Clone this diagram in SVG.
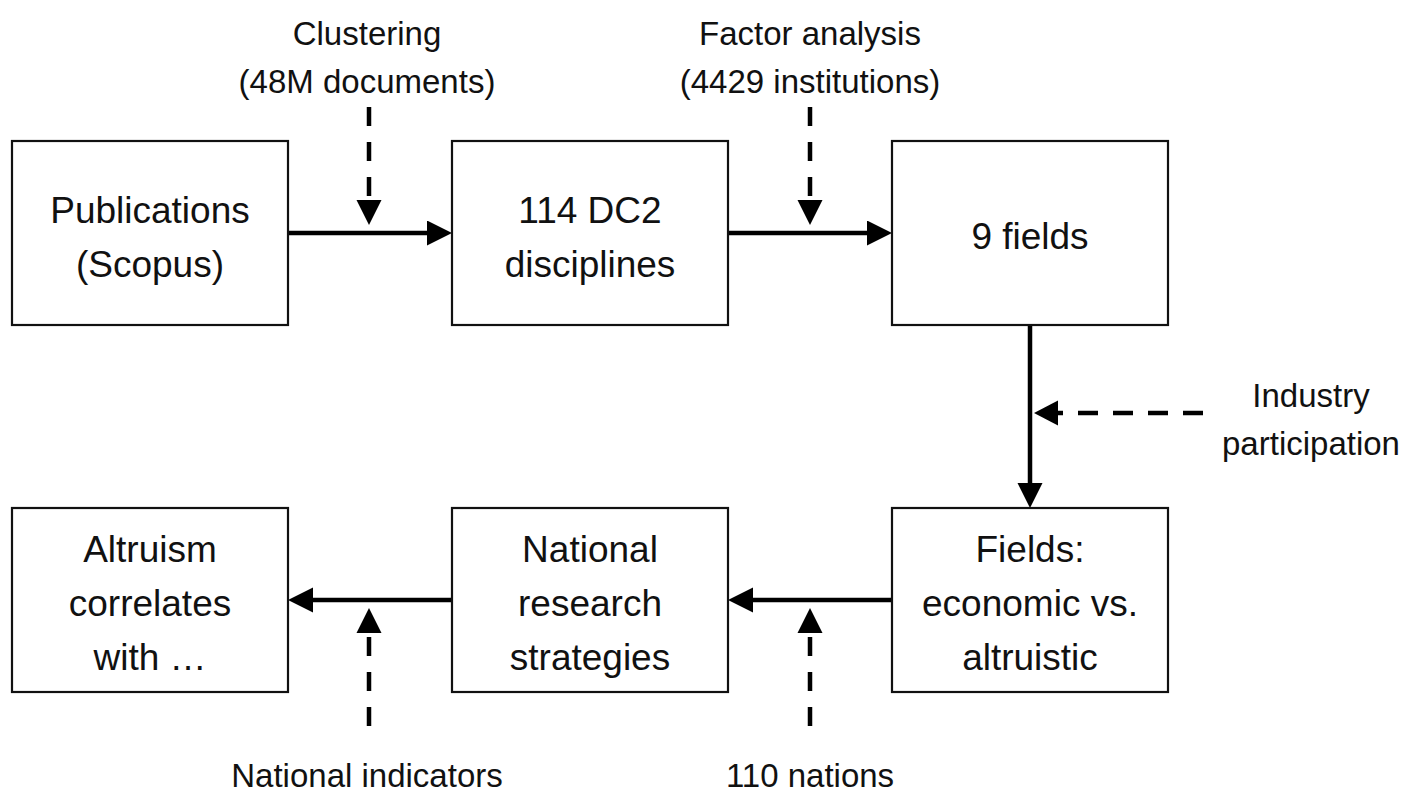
<svg xmlns="http://www.w3.org/2000/svg" width="1420" height="792" viewBox="0 0 1420 792">
<style>
  .box { fill: #ffffff; stroke: #111111; stroke-width: 2.2; }
  .t { font-family: "Liberation Sans", Arial, sans-serif; font-size: 37px; fill: #111111; text-anchor: middle; }
  .lbl { font-family: "Liberation Sans", Arial, sans-serif; font-size: 33px; fill: #111111; text-anchor: middle; }
  .solid { fill: none; stroke: #000000; stroke-width: 4.5; }
  .dash { fill: none; stroke: #000000; stroke-width: 4.5; stroke-dasharray: 19 16; }
  .dashh { fill: none; stroke: #000000; stroke-width: 4.5; stroke-dasharray: 20 15; }
</style>
<defs>
  <marker id="ah" markerUnits="userSpaceOnUse" markerWidth="26" markerHeight="26" refX="4" refY="12.5" orient="auto" viewBox="0 0 26 26">
    <path d="M0,0 L25,12.5 L0,25 Z" fill="#000000"/>
  </marker>
</defs>
<rect width="1420" height="792" fill="#ffffff"/>

<g id="connectors">
  <!-- solid flow -->
  <path class="solid" d="M288,233 L431,233" marker-end="url(#ah)"/>
  <path class="solid" d="M728,233 L871,233" marker-end="url(#ah)"/>
  <path class="solid" d="M1030,325 L1030,487" marker-end="url(#ah)"/>
  <path class="solid" d="M892,600 L749,600" marker-end="url(#ah)"/>
  <path class="solid" d="M452,600 L309,600" marker-end="url(#ah)"/>
  <!-- dashed inputs -->
  <path class="dash" d="M369,107 L369,200"/>
  <path d="M356.5,200 L381.5,200 L369,225 Z" fill="#000000"/>
  <path class="dash" d="M810,107 L810,200"/>
  <path d="M797.5,200 L822.5,200 L810,225 Z" fill="#000000"/>
  <path class="dashh" d="M1203,413 L1058,413"/>
  <path d="M1058,400.5 L1058,425.5 L1034,413 Z" fill="#000000"/>
  <path class="dash" d="M369,726 L369,633"/>
  <path d="M356.5,633 L381.5,633 L369,608 Z" fill="#000000"/>
  <path class="dash" d="M810,726 L810,633"/>
  <path d="M797.5,633 L822.5,633 L810,608 Z" fill="#000000"/>
</g>

<g id="node-publications">
  <rect class="box" x="12" y="141" width="276" height="184"/>
  <text class="t" x="150" y="223">Publications</text>
  <text class="t" x="150" y="277">(Scopus)</text>
</g>
<g id="node-disciplines">
  <rect class="box" x="452" y="141" width="276" height="184"/>
  <text class="t" x="590" y="223">114 DC2</text>
  <text class="t" x="590" y="277">disciplines</text>
</g>
<g id="node-fields">
  <rect class="box" x="892" y="141" width="276" height="184"/>
  <text class="t" x="1030" y="249">9 fields</text>
</g>
<g id="node-econ-altru">
  <rect class="box" x="892" y="508" width="276" height="184"/>
  <text class="t" x="1030" y="562">Fields:</text>
  <text class="t" x="1030" y="616">economic vs.</text>
  <text class="t" x="1030" y="670">altruistic</text>
</g>
<g id="node-strategies">
  <rect class="box" x="452" y="508" width="276" height="184"/>
  <text class="t" x="590" y="562">National</text>
  <text class="t" x="590" y="616">research</text>
  <text class="t" x="590" y="670">strategies</text>
</g>
<g id="node-altruism">
  <rect class="box" x="12" y="508" width="276" height="184"/>
  <text class="t" x="150" y="562">Altruism</text>
  <text class="t" x="150" y="616">correlates</text>
  <text class="t" x="150" y="670">with …</text>
</g>

<g id="labels">
  <text class="lbl" x="367" y="45">Clustering</text>
  <text class="lbl" x="367" y="93">(48M documents)</text>
  <text class="lbl" x="810" y="45">Factor analysis</text>
  <text class="lbl" x="810" y="93">(4429 institutions)</text>
  <text class="lbl" x="1311" y="407">Industry</text>
  <text class="lbl" x="1311" y="455">participation</text>
  <text class="lbl" x="367" y="787">National indicators</text>
  <text class="lbl" x="810" y="787">110 nations</text>
</g>
</svg>
